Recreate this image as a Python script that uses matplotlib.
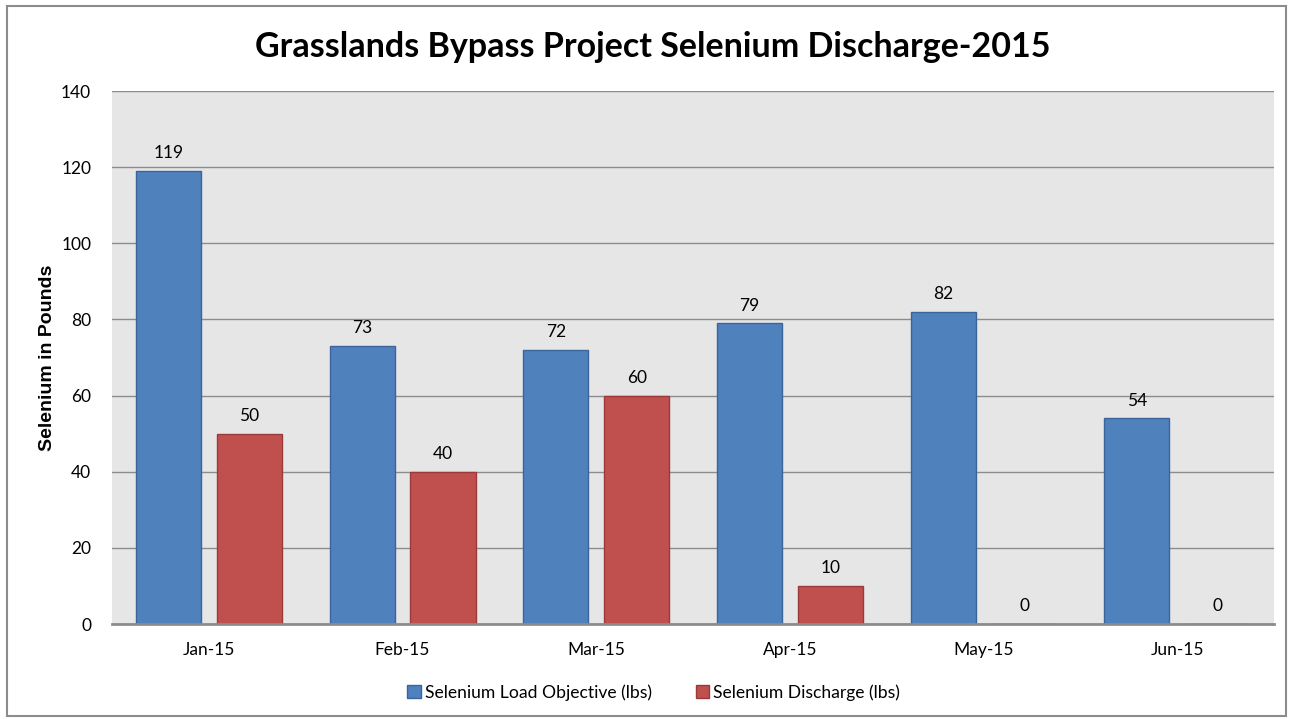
import matplotlib
matplotlib.use("Agg")
import matplotlib.pyplot as plt
import numpy as np
from matplotlib.patches import Rectangle

months = ["Jan-15", "Feb-15", "Mar-15", "Apr-15", "May-15", "Jun-15"]
load_objective = [119, 73, 72, 79, 82, 54]
discharge = [50, 40, 60, 10, 0, 0]
yticks = [0, 20, 40, 60, 80, 100, 120, 140]

plt.rcParams['font.family'] = ['Lato', 'DejaVu Sans']

fig = plt.figure(figsize=(12.92, 7.19), dpi=100)
fig.patches.append(Rectangle((0.0055, 0.004), 0.99, 0.988, transform=fig.transFigure,
                             fill=False, edgecolor="#8c8c8c", linewidth=1.5))
ax = fig.add_axes([0.0867, 0.1321, 0.8994, 0.7413])
ax.set_facecolor("#e6e6e6")

x = np.arange(len(months))
w = 0.336
off = 0.209
b1 = ax.bar(x - off, load_objective, w, color="#4f81bd", edgecolor="#3a659a", linewidth=1,
            label="Selenium Load Objective (lbs)", zorder=3)
b2 = ax.bar(x + off, discharge, w, color="#c0504d", edgecolor="#9b3b39", linewidth=1,
            label="Selenium Discharge (lbs)", zorder=3)

for bars, vals in ((b1, load_objective), (b2, discharge)):
    for rect, v in zip(bars, vals):
        ax.annotate(f"{v}", (rect.get_x() + rect.get_width() / 2, v),
                    xytext=(0, 7), textcoords="offset points",
                    ha="center", va="bottom", fontsize=12.5, color="#000000")

ax.set_xlim(-0.5, len(months) - 0.5)
ax.set_ylim(0, 140)
ax.set_yticks(yticks)
ax.set_xticks(x)
ax.set_xticklabels(months)
ax.tick_params(axis="both", length=0, labelsize=12.5, colors="#000000")
ax.tick_params(axis="x", pad=13)
ax.tick_params(axis="y", pad=15)
ax.grid(axis="y", color="#8c8c8c", linewidth=1, zorder=0)
ax.set_axisbelow(True)
for s in ["top", "right", "left"]:
    ax.spines[s].set_visible(False)
ax.spines["bottom"].set_color("#8c8c8c")
ax.spines["bottom"].set_linewidth(2)
ax.spines["bottom"].set_zorder(4)

ax.set_ylabel("Selenium in Pounds", fontsize=14, fontweight="bold",
              family=["Liberation Sans", "DejaVu Sans"], labelpad=4)
fig.text(0.505, 0.935, "Grasslands Bypass Project Selenium Discharge-2015",
         ha="center", va="center", fontsize=24.5, fontweight="bold")

leg = fig.legend(handles=[b1, b2], loc="center", bbox_to_anchor=(0.506, 0.037), ncol=2,
                 frameon=False, fontsize=12.6, handlelength=0.75, handleheight=0.75,
                 handletextpad=0.25, columnspacing=2.5)

fig.savefig("out.png", dpi=100)
